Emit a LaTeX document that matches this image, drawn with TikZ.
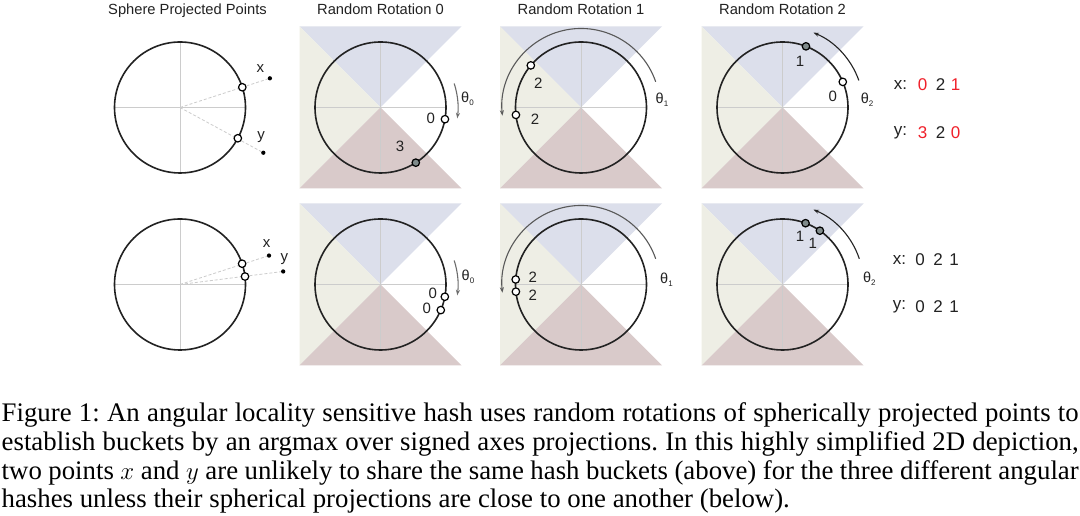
\documentclass[tikz,border=0pt]{standalone}
\usepackage{fontspec}
\setmainfont{Liberation Serif}
\setsansfont{Liberation Sans}
\usetikzlibrary{arrows.meta}
\definecolor{qblue}{HTML}{DCDFEB}
\definecolor{qbeige}{HTML}{EEEEE5}
\definecolor{qmauve}{HTML}{D9CACA}
\definecolor{axgray}{HTML}{CCCCCC}
\definecolor{ringc}{HTML}{222222}
\definecolor{ptfill}{HTML}{7F8A8A}
\definecolor{hred}{HTML}{F0202A}
\newcommand{\qsquare}{%
  \fill[qblue] (-81,81) -- (81,81) -- (0,0) -- cycle;
  \fill[qbeige] (-81,81) -- (-81,-81) -- (0,0) -- cycle;
  \fill[qmauve] (-81,-81) -- (81,-81) -- (0,0) -- cycle;
  \draw[axisline] (-65.5,0) -- (65.5,0) (0,-65.5) -- (0,65.5);
  \draw[ring] (0,0) circle[radius=65.5];}
\newcommand{\plainring}{%
  \draw[axisline] (-65.5,0) -- (65.5,0) (0,-65.5) -- (0,65.5);
  \draw[ring] (0,0) circle[radius=65.5];}
\newcommand{\thl}[1]{θ\raisebox{-3pt}{\fontsize{8}{8}\selectfont #1}}
\tikzset{
  axisline/.style={draw=axgray, line width=0.7pt},
  ring/.style={draw=ringc, line width=1.6pt},
  hollowpt/.style={circle, draw=black, line width=1.2pt, fill=white, inner sep=0pt, minimum size=7.5pt},
  filledpt/.style={circle, draw=black, line width=1.2pt, fill=ptfill, inner sep=0pt, minimum size=7.5pt},
  rawdot/.style={circle, fill=black, inner sep=0pt, minimum size=4.3pt},
  projline/.style={draw=axgray, line width=0.8pt, dashed, dash pattern=on 3pt off 2pt},
  lbl/.style={font=\sffamily\fontsize{15}{15}\selectfont, inner sep=0pt, text=ringc},
  thlbl/.style={font=\sffamily\fontsize{14.5}{15}\selectfont, inner sep=0pt, text=ringc},
  hashlbl/.style={font=\sffamily\fontsize{17}{17}\selectfont, inner sep=0pt, text=ringc},
  title/.style={font=\sffamily\fontsize{14.7}{15}\selectfont, inner sep=0pt, anchor=base, text=ringc},
  rotarrow/.style={line width=1.1pt, -{Stealth[length=5.5pt,width=4pt]}},
  caprow/.style={anchor=base west, inner sep=0pt, font=\fontsize{26.8}{28.7}\selectfont},
}
\begin{document}
\frenchspacing
\begin{tikzpicture}[x=1pt,y=1pt]
\useasboundingbox (0,0) rectangle (1080,516);
\fill[white] (0,0) rectangle (1080,516);

% titles
\node[title] (t0) at (187.5,501) {Sphere Projected Points};
\node[title] (t1) at (380.5,501) {Random Rotation 0};
\node[title] (t2) at (581,501) {Random Rotation 1};
\node[title] (t3) at (782.5,501) {Random Rotation 2};

% ---------- top row ----------
\begin{scope}[shift={(180,408.5)}]
  \plainring
  \coordinate (oA) at (0,0);
  \node[rawdot] (xdA) at (18:94.5) {};
  \node[rawdot] (ydA) at (-28.5:94.8) {};
  \draw[projline] (oA) -- (xdA);
  \draw[projline] (oA) -- (ydA);
  \node[hollowpt] (xpA) at (18:65.5) {};
  \node[hollowpt] (ypA) at (-28:65.5) {};
  \node[lbl] (xlA) at (80.3,39.2) {x};
  \node[lbl] (ylA) at (81,-29.8) {y};
\end{scope}

\begin{scope}[shift={(380.5,408.5)}]
  \qsquare
  \draw[rotarrow, draw=gray!85!black] (18:77.5) arc[start angle=18, end angle=-8, radius=77.5];
  \node[hollowpt] (pB0) at (-10.3:65.5) {};
  \node[filledpt] (pB3) at (-57.4:65.5) {};
  \node[lbl] (lB0) at (50.2,-10.8) {0};
  \node[lbl] (lB3) at (19.5,-39.2) {3};
  \node[thlbl] (thB) at (87,9) {\thl{0}};
\end{scope}

\begin{scope}[shift={(581,408.5)}]
  \qsquare
  \draw[rotarrow, draw=gray!70!black] (19:79) arc[start angle=19, end angle=186, radius=79];
  \node[hollowpt] (pC2a) at (140:65.5) {};
  \node[hollowpt] (pC2b) at (186.5:65.5) {};
  \node[lbl] (lC2a) at (-42.7,24.2) {2};
  \node[lbl] (lC2b) at (-46,-11.5) {2};
  \node[thlbl] (thC) at (81,8.2) {\thl{1}};
\end{scope}

\begin{scope}[shift={(782.5,408.5)}]
  \qsquare
  \draw[rotarrow, draw=ringc] (19.5:81) arc[start angle=19.5, end angle=67.5, radius=81];
  \node[filledpt] (pD1) at (69:65.5) {};
  \node[hollowpt] (pD0) at (23:65.5) {};
  \node[lbl] (lD1) at (17.5,45.8) {1};
  \node[lbl] (lD0) at (50.2,10.8) {0};
  \node[thlbl] (thD) at (84.5,8.2) {\thl{2}};
\end{scope}

\node[hashlbl] (hxa) at (900.5,431) {x:};
\node[hashlbl, text=hred] (hx0) at (922.5,431) {0};
\node[hashlbl] (hx2) at (940.5,431) {2};
\node[hashlbl, text=hred] (hx1) at (955.5,431) {1};
\node[hashlbl] (hya) at (900.5,383.3) {y:};
\node[hashlbl, text=hred] (hy3) at (922.5,383.3) {3};
\node[hashlbl] (hy2) at (940.5,383.3) {2};
\node[hashlbl, text=hred] (hy0) at (955.5,383.3) {0};

% ---------- bottom row ----------
\begin{scope}[shift={(180,231.5)}]
  \plainring
  \coordinate (oE) at (0,0);
  \node[rawdot] (xdE) at (18:93.6) {};
  \node[rawdot] (ydE) at (7.2:104) {};
  \draw[projline] (oE) -- (xdE);
  \draw[projline] (oE) -- (ydE);
  \node[hollowpt] (xpE) at (18.5:65.5) {};
  \node[hollowpt] (ypE) at (7:65.5) {};
  \node[lbl] (xlE) at (86.7,40.5) {x};
  \node[lbl] (ylE) at (104.3,25.2) {y};
\end{scope}

\begin{scope}[shift={(380.5,231.5)}]
  \qsquare
  \draw[rotarrow, draw=gray!85!black] (18:77.5) arc[start angle=18, end angle=-8, radius=77.5];
  \node[hollowpt] (pF0a) at (-10.8:65.5) {};
  \node[hollowpt] (pF0b) at (-23:65.5) {};
  \node[lbl] (lF0a) at (52.2,-8.8) {0};
  \node[lbl] (lF0b) at (46.2,-23.8) {0};
  \node[thlbl] (thF) at (87.5,7.5) {\thl{0}};
\end{scope}

\begin{scope}[shift={(581,231.5)}]
  \qsquare
  \draw[rotarrow, draw=gray!70!black] (19:79) arc[start angle=19, end angle=186, radius=79];
  \node[hollowpt] (pG2a) at (175.6:65.5) {};
  \node[hollowpt] (pG2b) at (186.3:65.5) {};
  \node[lbl] (lG2a) at (-48.3,7.2) {2};
  \node[lbl] (lG2b) at (-48.3,-10.8) {2};
  \node[thlbl] (thG) at (85.5,4.5) {\thl{1}};
\end{scope}

\begin{scope}[shift={(782.5,231.5)}]
  \qsquare
  \draw[rotarrow, draw=ringc] (18.5:81) arc[start angle=18.5, end angle=67.5, radius=81];
  \node[filledpt] (pH1a) at (69.4:65.5) {};
  \node[filledpt] (pH1b) at (55.2:65.5) {};
  \node[lbl] (lH1a) at (17.5,47.8) {1};
  \node[lbl] (lH1b) at (30.2,41.2) {1};
  \node[thlbl] (thH) at (86.8,6.2) {\thl{2}};
\end{scope}

\node[hashlbl] (hxb) at (899.5,256) {x:};
\node[hashlbl] (hxb0) at (920,256) {0};
\node[hashlbl] (hxb2) at (938,256) {2};
\node[hashlbl] (hxb1) at (954,256) {1};
\node[hashlbl] (hyb) at (899.5,209.3) {y:};
\node[hashlbl] (hyb0) at (920,209.3) {0};
\node[hashlbl] (hyb2) at (938,209.3) {2};
\node[hashlbl] (hyb1) at (954,209.3) {1};

% ---------- caption ----------
\node[caprow] (cap1) at (1.5,94.3) {\makebox[1077pt][s]{Figure 1: An angular locality sensitive hash uses random rotations of spherically projected points to}};
\node[caprow] (cap2) at (1.5,65.6) {\makebox[1077pt][s]{establish buckets by an argmax over signed axes projections. In this highly simplified 2D depiction,}};
\node[caprow] (cap3) at (1.5,36.9) {\makebox[1077pt][s]{two points $x$ and $y$ are unlikely to share the same hash buckets (above) for the three different angular}};
\node[caprow] (cap4) at (1.5,8.2) {hashes unless their spherical projections are close to one another (below).};
\end{tikzpicture}
\end{document}
